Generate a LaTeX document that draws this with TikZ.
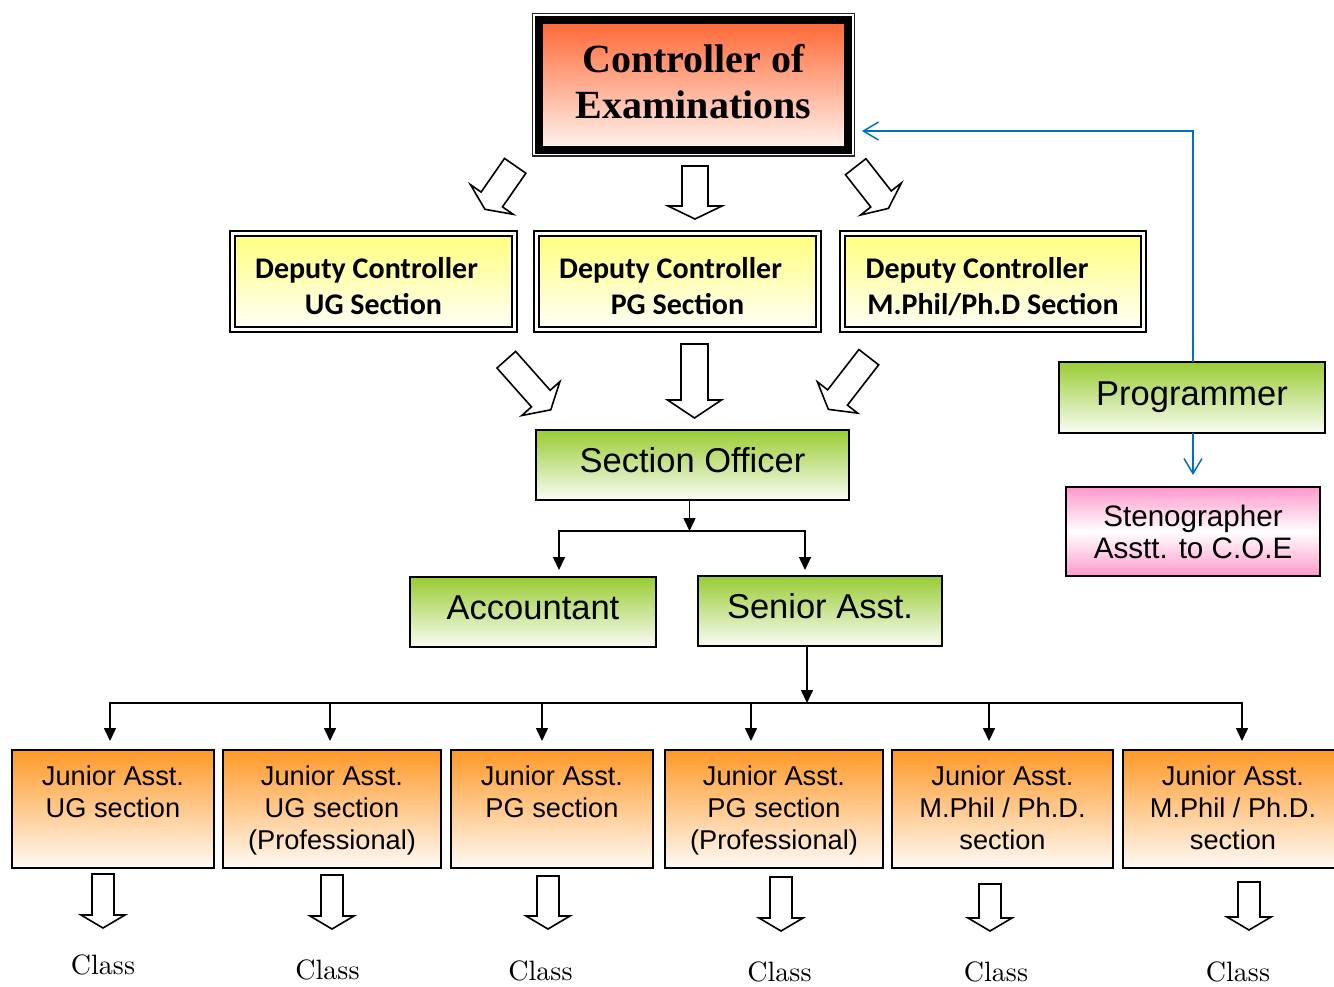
\documentclass[tikz,border=0pt]{standalone}
\usepackage{fontspec}
\usetikzlibrary{arrows.meta,calc}
\newfontfamily\arialf{Liberation Sans}
\newfontfamily\timesf{Liberation Serif}
\newfontfamily\calibrif{Carlito}
\newfontfamily\classf{lmroman10-regular.otf}
\newcommand\mystack[1]{\begin{tabular}[t]{@{}c@{}}#1\end{tabular}}
\newcommand\barrowdraw[7]{\begin{scope}[shift={(#1,#2)},rotate=#3]\draw[barrow] (0,{-#5/2}) -- ({#4-#7},{-#5/2}) -- ({#4-#7},{-#6/2}) -- (#4,0) -- ({#4-#7},{#6/2}) -- ({#4-#7},{#5/2}) -- (0,{#5/2}) -- cycle;\end{scope}}
\definecolor{coetop}{RGB}{255,102,51}
\definecolor{coebot}{RGB}{255,245,240}
\definecolor{deptop}{RGB}{255,255,128}
\definecolor{depbot}{RGB}{255,255,245}
\definecolor{grntop}{RGB}{153,204,51}
\definecolor{grnbot}{RGB}{250,252,245}
\definecolor{orgtop}{RGB}{255,153,40}
\definecolor{orgbot}{RGB}{255,250,245}
\definecolor{pnk}{RGB}{255,153,204}
\definecolor{bluec}{RGB}{0,112,192}
\tikzset{
  box/.style={draw=black, line width=1.5pt, inner sep=0pt, outer sep=0pt},
  coebox/.style={box, line width=8pt, top color=coetop, bottom color=coebot,
    font=\timesf\bfseries\fontsize{40}{46}\selectfont, text height=32.2pt, text depth=57.7pt},
  depbox/.style={box, line width=2.5pt, top color=deptop, bottom color=depbot, minimum height=91pt,
    font=\calibrif\bfseries\fontsize{30}{36}\selectfont, text height=25.2pt, text depth=32.2pt},
  depouter/.style={draw=black, line width=1.5pt},
  grnbox/.style={box, top color=grntop, bottom color=grnbot, minimum height=70pt,
    font=\arialf\fontsize{34.5}{40}\selectfont, text height=25pt, text depth=10pt},
  pnkbox/.style={box, top color=pnk, bottom color=pnk, middle color=white,
    font=\arialf\fontsize{29.6}{32}\selectfont, text height=22.4pt, text depth=33.4pt},
  jrbox/.style={box, top color=orgtop, bottom color=orgbot, minimum height=118pt,
    font=\arialf\fontsize{27.2}{32}\selectfont, text height=22.4pt, text depth=70.4pt},
  clstxt/.style={inner sep=0pt, font=\classf\fontsize{28}{34}\selectfont},
  conn/.style={draw=black, line width=1.6pt, -{Triangle[length=13pt,width=12pt]}},
  bconn/.style={draw=bluec, line width=1.5pt, -{Straight Barb[length=15pt,width=18pt]}},
  barrow/.style={draw=black, fill=white, line width=1.6pt, line join=miter}
}
\begin{document}
\begin{tikzpicture}[x=1pt,y=-1pt]
\useasboundingbox (0,0) rectangle (1334,986);
\clip (0,0) rectangle (1334,986);

% Controller of Examinations
\node[coebox, minimum width=309pt, minimum height=129.5pt] (coe) at (693.5,84.75) {\mystack{Controller of\\Examinations}};
\draw[line width=1.5pt, draw=black!85] ([shift={(-6.5,-6.5)}]coe.north west) rectangle ([shift={(6.5,6.5)}]coe.south east);

% Deputy controllers
\node[depbox, minimum width=277pt] (dug) at (373.5,281.5) {\mystack{Deputy Controller\hspace*{14pt}\\UG Section}};
\node[depbox, minimum width=277pt] (dpg) at (677.5,281.5) {\mystack{Deputy Controller\hspace*{14pt}\\PG Section}};
\node[depbox, minimum width=296pt] (dmp) at (993,281.5) {\mystack{Deputy Controller\hspace*{32pt}\\M.Phil/Ph.D Section}};
\foreach \n in {dug,dpg,dmp}
  \draw[depouter] ([shift={(-5,-5)}]\n.north west) rectangle ([shift={(5,5)}]\n.south east);

% green boxes
\node[grnbox, minimum width=313pt] (so) at (692.5,465) {Section Officer};
\node[grnbox, minimum width=246pt] (acc) at (533,612) {Accountant};
\node[grnbox, minimum width=244pt] (sen) at (820,611) {Senior Asst.};
\node[grnbox, minimum width=266pt, minimum height=71pt] (prog) at (1192,397.5) {Programmer};
\node[pnkbox, minimum width=254pt, minimum height=89pt] (steno) at (1193,531.5) {\mystack{Stenographer\\Asstt. to C.O.E}};

% junior assistants
\node[jrbox, minimum width=202pt] (j1) at (113,809) {\mystack{Junior Asst.\\UG section}};
\node[jrbox, minimum width=218pt] (j2) at (332,809) {\mystack{Junior Asst.\\UG section\\(Professional)}};
\node[jrbox, minimum width=202pt] (j3) at (552,809) {\mystack{Junior Asst.\\PG section}};
\node[jrbox, minimum width=218pt] (j4) at (774,809) {\mystack{Junior Asst.\\PG section\\(Professional)}};
\node[jrbox, minimum width=221pt] (j5) at (1002.5,809) {\mystack{Junior Asst.\\M.Phil / Ph.D.\\section}};
\node[jrbox, minimum width=220pt] (j6) at (1233,809) {\mystack{Junior Asst.\\M.Phil / Ph.D.\\section}};

% Class labels
\node[clstxt] (k1) at (103,965) {Class};
\node[clstxt] (k2) at (327.5,970) {Class};
\node[clstxt] (k3) at (540.5,971) {Class};
\node[clstxt] (k4) at (779.5,972) {Class};
\node[clstxt] (k5) at (996,972) {Class};
\node[clstxt] (k6) at (1238,972) {Class};

% connectors
\coordinate (sobus) at ([shift={(-3,31)}]so.south);
\draw[conn] ([xshift=-3pt]so.south) -- (sobus);
\draw[conn] (sobus) -| ([shift={(26,-7)}]acc.north);
\draw[conn] (sobus) -| ([shift={(-15,-6)}]sen.north);

\coordinate (jbus) at ([shift={(-13,57)}]sen.south);
\draw[conn] ([xshift=-13pt]sen.south) -- (jbus);
\foreach \n/\dx in {j1/-3, j2/-2, j3/-10, j4/-23, j5/-13.5, j6/9}
  \draw[conn] (jbus) -| ([shift={(\dx,-9)}]\n.north);

\coordinate (coein) at ([shift={(14,-18.5)}]coe.south east);
\draw[bconn] ([xshift=1pt]prog.north) |- (coein);
\draw[bconn] ([xshift=1pt]prog.south) -- ([shift={(0,-12)}]steno.north);

% block arrows
\barrowdraw{515.2}{165.8}{-124.8}{53}{26}{52}{12}
\barrowdraw{695}{166}{-90}{53}{26}{54}{13}
\barrowdraw{855.7}{166.7}{-51.9}{53}{26}{52}{12}
\barrowdraw{506.3}{359.7}{-48.4}{67}{25}{51}{15}
\barrowdraw{694.5}{344}{-90}{74}{27}{54}{18}
\barrowdraw{868.8}{357.2}{-127.8}{66}{25}{51}{15}
\barrowdraw{103}{874}{-90}{54}{22}{44}{13}
\barrowdraw{332}{875}{-90}{54}{22}{44}{13}
\barrowdraw{548}{876}{-90}{53}{22}{44}{13}
\barrowdraw{781}{877}{-90}{54}{22}{44}{13}
\barrowdraw{990}{884}{-90}{47}{22}{44}{13}
\barrowdraw{1249}{882}{-90}{48}{22}{44}{13}
\end{tikzpicture}
\end{document}
